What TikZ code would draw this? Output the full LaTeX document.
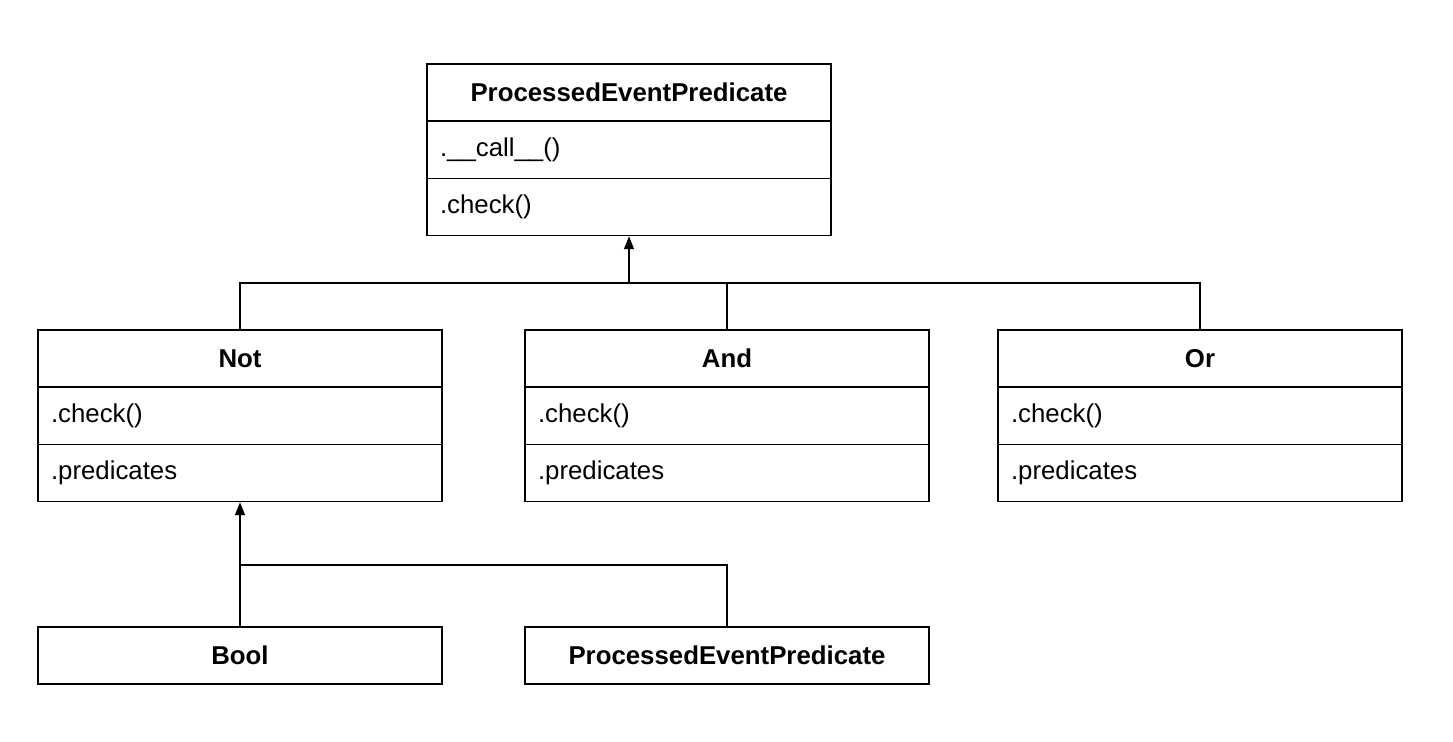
\documentclass[tikz,border=0pt]{standalone}
\usepackage{fontspec}
\setmainfont{Liberation Sans}
\usetikzlibrary {arrows.meta,
                 positioning}
\tikzset{
        base/.style={draw, line width=0.7pt, minimum width=202pt,
                     minimum height=28.6pt, inner sep=0pt,
                     font=\fontsize{12.9pt}{15pt}\selectfont},
        cls/.style={base, font=\fontsize{12.9pt}{15pt}\selectfont\bfseries},
        member/.style={base, align=left, text width=189pt, inner xsep=6.5pt},
        myarrow/.style={-{Triangle[length=6.5pt, width=5pt]}, line width=0.7pt},
        link/.style={line width=0.7pt},
 }
\begin{document}
\begin{tikzpicture}[x=0.5pt, y=-0.5pt]

    \useasboundingbox (0,0) rectangle (1453,741);

    % base class
    \node[cls] (pep) at (629,92.5) {ProcessedEventPredicate};
    \node[member, below=-0.7pt of pep] (pepcall) {.\_\_call\_\_()};
    \node[member, below=-0.7pt of pepcall] (pepchk) {.check()};

    % subclasses
    \node[cls] (not) at (240,358.5) {Not};
    \node[member, below=-0.7pt of not] (notchk) {.check()};
    \node[member, below=-0.7pt of notchk] (notpred) {.predicates};

    \node[cls] (and) at (727,358.5) {And};
    \node[member, below=-0.7pt of and] (andchk) {.check()};
    \node[member, below=-0.7pt of andchk] (andpred) {.predicates};

    \node[cls] (or) at (1200,358.5) {Or};
    \node[member, below=-0.7pt of or] (orchk) {.check()};
    \node[member, below=-0.7pt of orchk] (orpred) {.predicates};

    % leaves
    \node[cls] (bool) at (240,655.5) {Bool};
    \node[cls] (pep2) at (727,655.5) {ProcessedEventPredicate};

    % inheritance
    \coordinate (j1) at (629,283);
    \draw[myarrow] (j1) -- (pepchk.south);
    \draw[link] (not.north) |- (j1);
    \draw[link] (or.north) |- (j1);
    \draw[link] (and.north) -- (and.north |- j1);

    \coordinate (j2) at (240,565);
    \draw[myarrow] (bool.north) -- (notpred.south);
    \draw[link] (pep2.north) |- (j2);

\end{tikzpicture}
\end{document}
